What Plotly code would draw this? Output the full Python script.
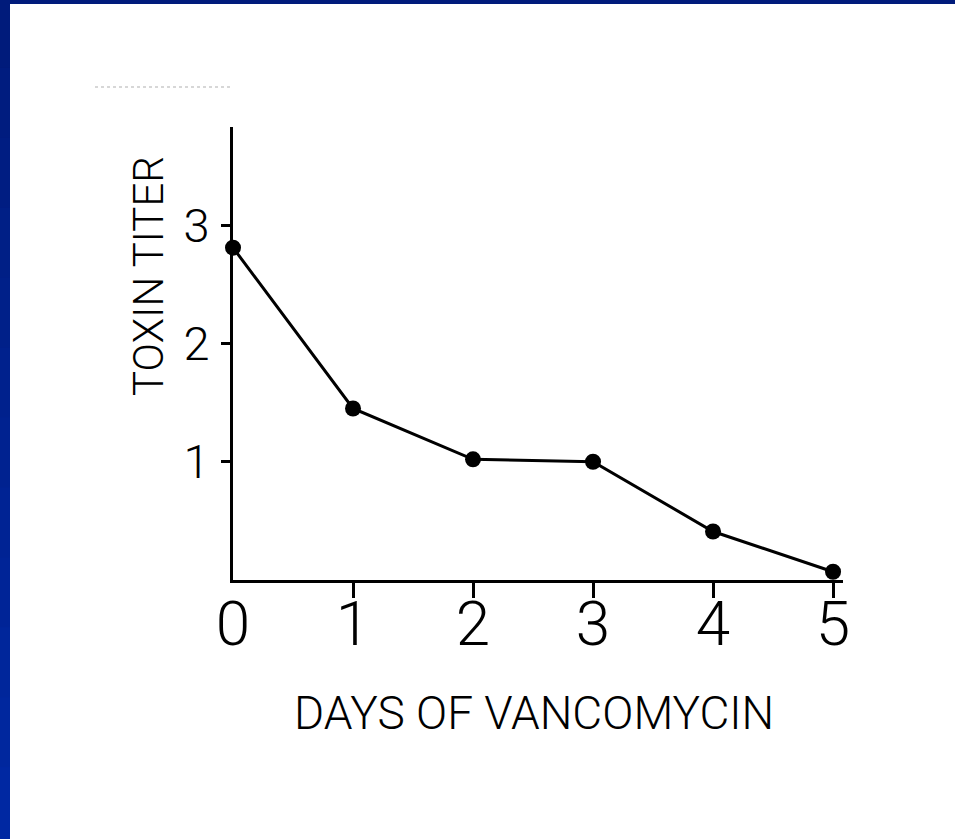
import plotly.graph_objects as go

# Toxin titer measured on each day of vancomycin therapy
days = [0, 1, 2, 3, 4, 5]
toxin_titer = [2.81, 1.45, 1.02, 1.0, 0.41, 0.07]

x_ticks = [0, 1, 2, 3, 4, 5]
y_ticks = [1, 2, 3]

W, H = 955, 839
ML, MR, MT, MB = 233, 112, 127, 259
PW, PH = W - ML - MR, H - MT - MB


def px_x(px):
    return (px - ML) / PW


def px_y(py):
    return (H - MB - py) / PH


fig = go.Figure()
fig.add_trace(go.Scatter(
    x=days, y=toxin_titer,
    mode="lines+markers",
    line=dict(color="black", width=3),
    marker=dict(color="black", size=16),
    cliponaxis=False,
    showlegend=False,
    hoverinfo="skip",
))

font_family = "Roboto, Liberation Sans, Arial, sans-serif"

# blue frame along the top and left edges of the page (left edge shades lighter downwards)
frame = []
n_seg = 12
seg_h = H / n_seg
for i in range(n_seg):
    t = i / (n_seg - 1)
    g = int(round(0x1b + t * (0x28 - 0x1b)))
    b = int(round(0x7b + t * (0xa2 - 0x7b)))
    frame.append(dict(type="rect", xref="paper", yref="paper",
                      x0=px_x(0), x1=px_x(10),
                      y0=px_y(max(0, seg_h * i - 2)),
                      y1=px_y(min(H, seg_h * (i + 1) + 2)),
                      line=dict(width=0), fillcolor=f"#00{g:02x}{b:02x}",
                      layer="above"))
frame.append(dict(type="rect", xref="paper", yref="paper",
                  x0=px_x(0), x1=px_x(W), y0=px_y(0), y1=px_y(4),
                  line=dict(width=0), fillcolor="#001b7b", layer="above"))

fig.update_layout(
    width=W, height=H, autosize=False,
    margin=dict(l=ML, r=MR, t=MT, b=MB, pad=0),
    paper_bgcolor="white", plot_bgcolor="white",
    xaxis=dict(
        range=[0, 5.083], tickvals=x_ticks, ticktext=[str(v) for v in x_ticks],
        ticks="", showgrid=False, zeroline=False,
        showline=True, linecolor="black", linewidth=3,
        tickfont=dict(family=font_family, size=62, color="black", weight=300),
        ticklabelstandoff=-12,
        minor=dict(tickvals=x_ticks[1:], ticks="outside", ticklen=15,
                   tickwidth=2.6, tickcolor="black"),
        fixedrange=True,
    ),
    yaxis=dict(
        range=[0, 3.83], tickvals=y_ticks, ticktext=[str(v) for v in y_ticks],
        ticks="outside", ticklen=9, tickwidth=2.6, tickcolor="black",
        showgrid=False, zeroline=False,
        showline=True, linecolor="black", linewidth=3,
        tickfont=dict(family=font_family, size=47, color="black", weight=300),
        ticklabelstandoff=2,
        fixedrange=True,
    ),
    annotations=[
        dict(text="DAYS OF VANCOMYCIN", xref="paper", yref="paper",
             x=px_x(534), y=px_y(713), xanchor="center", yanchor="middle",
             showarrow=False,
             font=dict(family=font_family, size=46, color="black", weight=300)),
        dict(text="TOXIN TITER", xref="paper", yref="paper",
             x=px_x(148), y=px_y(276), xanchor="center", yanchor="middle",
             textangle=-90, showarrow=False,
             font=dict(family=font_family, size=42, color="black", weight=300)),
    ],
    shapes=frame + [
        # faint stray mark above the chart
        dict(type="line", xref="paper", yref="paper",
             x0=px_x(95), x1=px_x(230), y0=px_y(87), y1=px_y(87),
             line=dict(color="#b0b0b0", width=1.2, dash="dot")),
    ],
)

fig.write_html("out.html", config={"displayModeBar": False})
